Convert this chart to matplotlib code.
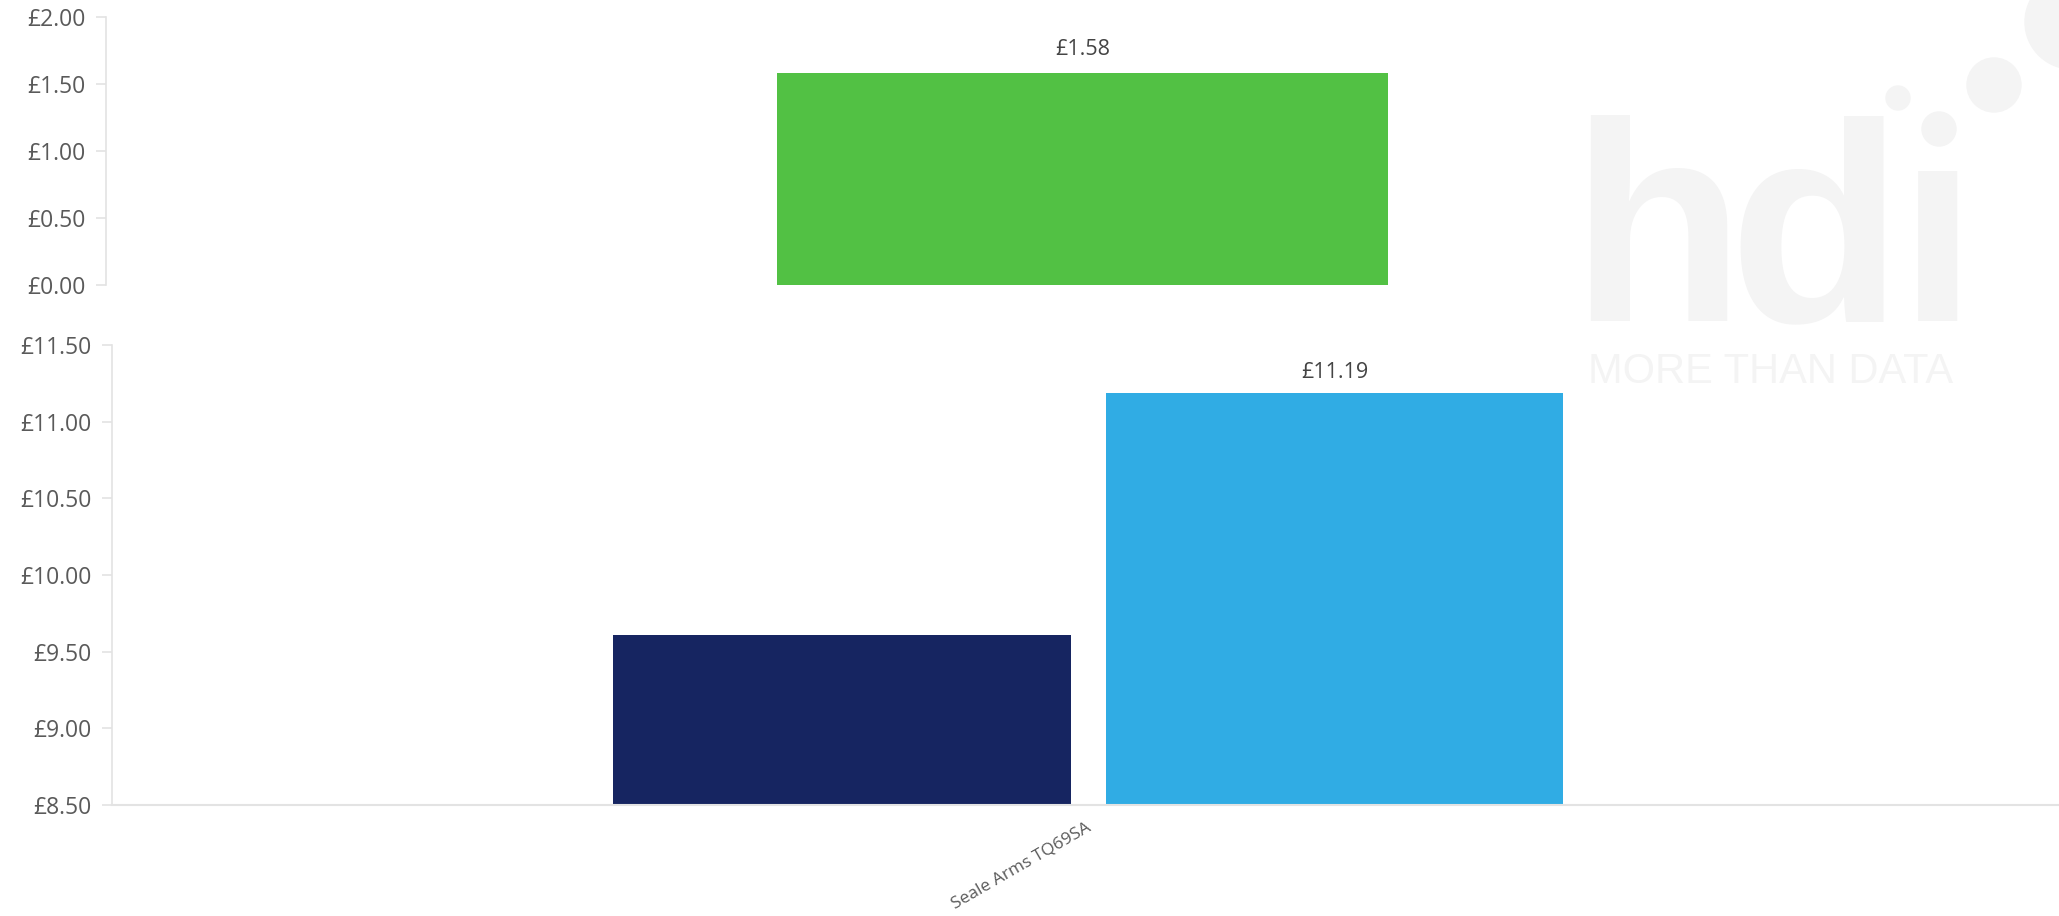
import matplotlib
matplotlib.use('Agg')
import matplotlib.pyplot as plt
from matplotlib.patches import Circle

plt.rcParams['font.family'] = ['Open Sans', 'DejaVu Sans']

# Данные
category = ['Seale Arms TQ69SA']
diff_values = [1.58]
left_values = [9.61]
right_values = [11.19]

top_ticks = [0.0, 0.5, 1.0, 1.5, 2.0]
bottom_ticks = [8.5, 9.0, 9.5, 10.0, 10.5, 11.0, 11.5]

green = '#52c144'
navy = '#162561'
blue = '#30ace4'
spine_col = '#e3e3e3'
text_col = '#5a5a5a'
wm_col = '#f4f4f4'

W, H = 2059, 916
fig = plt.figure(figsize=(W / 100, H / 100), dpi=100)

# водяной знак hdi (буквы по отдельности, плотнее)
for ch, px in [('h', 1570), ('d', 1728), ('\u0131', 1898)]:
    fig.text(px / W, 1 - 321 / H, ch, fontsize=205, color=wm_col, fontweight='bold',
             family='Liberation Sans', ha='left', va='baseline', zorder=0)
fig.text(1588 / W, 1 - 383 / H, 'MORE THAN DATA', fontsize=30, color=wm_col,
         family='Liberation Sans', ha='left', va='baseline', zorder=0)
for cx, cy, r in [(1939, 129, 17), (1898, 98, 12), (1994, 85, 27), (2072, 22, 47)]:
    fig.patches.append(Circle((cx / 100, (H - cy) / 100), r / 100,
                              transform=fig.dpi_scale_trans, color=wm_col, zorder=0))

# верхний график (разница)
ax1 = fig.add_axes([106 / W, 1 - 285 / H, (W - 106) / W, 268 / H])
ax1.patch.set_alpha(0)
x = range(len(category))
ax1.bar(x, diff_values, width=0.313, color=green)
ax1.set_xlim(-0.5, 0.5)
ax1.set_ylim(0, 2)
ax1.set_yticks(top_ticks)
ax1.set_yticklabels([f'£{v:.2f}' for v in top_ticks])
ax1.set_xticks([])
for v, xi in zip(diff_values, x):
    ax1.text(xi, v + 0.1, f'£{v:.2f}', ha='center', va='bottom', fontsize=15.5, color='#444444')

# нижний график
ax2 = fig.add_axes([112 / W, 1 - 805 / H, (W - 112) / W, 460 / H])
ax2.patch.set_alpha(0)
w = 0.235
ax2.bar([xi - 0.125 for xi in x], left_values, width=w, color=navy)
ax2.bar([xi + 0.128 for xi in x], right_values, width=w, color=blue)
ax2.set_xlim(-0.5, 0.5)
ax2.set_ylim(8.5, 11.5)
ax2.set_yticks(bottom_ticks)
ax2.set_yticklabels([f'£{v:.2f}' for v in bottom_ticks])
ax2.set_xticks(list(x))
ax2.set_xticklabels(category, rotation=30, ha='right', rotation_mode='anchor',
                    fontsize=12.5, color=text_col)
for v, xi in zip(right_values, x):
    ax2.text(xi + 0.128, v + 0.06, f'£{v:.2f}', ha='center', va='bottom', fontsize=15.5, color='#444444')

for ax in (ax1, ax2):
    for s in ['top', 'right']:
        ax.spines[s].set_visible(False)
    ax.spines['left'].set_color(spine_col)
    ax.spines['left'].set_linewidth(1.2)
    ax.tick_params(axis='y', colors=spine_col, labelcolor=text_col, labelsize=16.5,
                   length=7, width=1.2, pad=8)
ax1.spines['bottom'].set_visible(False)
ax2.spines['bottom'].set_color(spine_col)
ax2.spines['bottom'].set_linewidth(1.5)
ax2.tick_params(axis='x', length=0, pad=10)

fig.savefig('out.png', dpi=100)
